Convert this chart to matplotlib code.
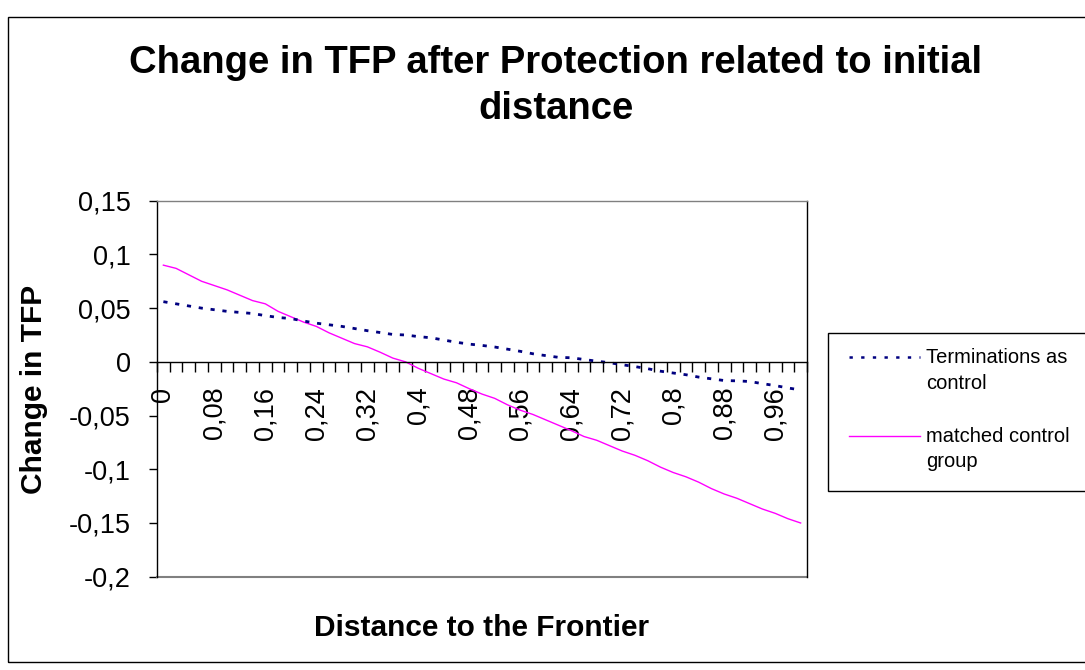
import matplotlib
matplotlib.use("Agg")
import matplotlib.pyplot as plt
from matplotlib.lines import Line2D
from matplotlib.patches import Rectangle
from matplotlib.ticker import FixedLocator, FuncFormatter

plt.rcParams['font.family'] = ['Liberation Sans', 'DejaVu Sans']
plt.rcParams['lines.scale_dashes'] = False

# ---------------- data ----------------
distances = [0, 0.02, 0.04, 0.06, 0.08, 0.1, 0.12, 0.14, 0.16, 0.18,
             0.2, 0.22, 0.24, 0.26, 0.28, 0.3, 0.32, 0.34, 0.36, 0.38,
             0.4, 0.42, 0.44, 0.46, 0.48, 0.5, 0.52, 0.54, 0.56, 0.58,
             0.6, 0.62, 0.64, 0.66, 0.68, 0.7, 0.72, 0.74, 0.76, 0.78,
             0.8, 0.82, 0.84, 0.86, 0.88, 0.9, 0.92, 0.94, 0.96, 0.98, 1.0]

terminations = [0.056, 0.054, 0.052, 0.050, 0.0485, 0.047, 0.046, 0.045, 0.043, 0.0413,
                0.0403, 0.038, 0.036, 0.0345, 0.033, 0.031, 0.029, 0.0273, 0.0255, 0.025,
                0.0235, 0.0224, 0.0203, 0.0182, 0.0165, 0.0153, 0.0138, 0.0118, 0.0098, 0.0075,
                0.0058, 0.0042, 0.0038, 0.0022, 0.0006, -0.0008, -0.0027, -0.0044, -0.0064, -0.0087,
                -0.0104, -0.012, -0.0142, -0.0158, -0.0174, -0.0177, -0.0183, -0.0203, -0.0221, -0.0243,
                -0.0262]

matched = [0.090, 0.087, 0.081, 0.075, 0.071, 0.067, 0.062, 0.057, 0.054, 0.047,
           0.042, 0.037, 0.033, 0.027, 0.022, 0.017, 0.014, 0.009, 0.0035, 0.000,
           -0.006, -0.011, -0.016, -0.0195, -0.025, -0.030, -0.034, -0.040, -0.045, -0.049,
           -0.054, -0.059, -0.064, -0.0695, -0.073, -0.078, -0.083, -0.087, -0.092, -0.098,
           -0.103, -0.107, -0.112, -0.118, -0.123, -0.127, -0.132, -0.137, -0.141, -0.146,
           -0.150]

y_ticks = [-0.2, -0.15, -0.1, -0.05, 0, 0.05, 0.1, 0.15]
label_every = 4

series_names = ["Terminations as\ncontrol", "matched control\ngroup"]
title_lines = ["Change in TFP after Protection related to initial", "distance"]
x_title = "Distance to the Frontier"
y_title = "Change in TFP"

# ---------------- figure ----------------
W, H = 1085, 670
fig = plt.figure(figsize=(W / 100, H / 100), dpi=100)
fig.patch.set_facecolor('white')


def fx(px):
    return px / W


def fy(py):
    return 1 - py / H


# outer chart border
fig.patches.append(Rectangle((fx(8), fy(662)), fx(1100) - fx(8), fy(17) - fy(662),
                             transform=fig.transFigure, fill=False,
                             edgecolor='black', linewidth=1.0, clip_on=False))

left, right, top, bottom = 157, 807, 200.7, 576.7
ax = fig.add_axes([fx(left), fy(bottom), fx(right) - fx(left), fy(top) - fy(bottom)])

xs = list(range(len(distances)))
ax.plot(xs, matched, color='#FF00FF', linewidth=1.0, solid_joinstyle='round')
ax.plot(xs, terminations, color='#000080', linewidth=2.0,
        linestyle=(0, (3.0, 5.6)), dash_capstyle='butt')

ax.set_xlim(-0.5, len(distances) - 0.5)
ax.set_ylim(min(y_ticks), max(y_ticks))

# spines: left axis black, x axis at y=0, plot-area border
ax.spines['left'].set_color('black')
ax.spines['left'].set_linewidth(1.0)
ax.spines['bottom'].set_position(('data', 0))
ax.spines['bottom'].set_color('black')
ax.spines['bottom'].set_linewidth(1.0)
ax.spines['top'].set_color('#808080')
ax.spines['top'].set_linewidth(1.0)
ax.spines['right'].set_color('black')
ax.spines['right'].set_linewidth(1.0)
ax.plot([0, 1], [0, 0], transform=ax.transAxes, color='#808080',
        linewidth=1.5, clip_on=False)

# y ticks
ax.yaxis.set_major_locator(FixedLocator(y_ticks))
ax.yaxis.set_major_formatter(FuncFormatter(lambda v, p: f"{v:g}".replace('.', ',')))
ax.tick_params(axis='y', direction='out', length=6, width=1, color='black',
               labelsize=19.5, pad=13)

# x ticks: labels at category centres, tick marks between categories
major_pos = [i for i in xs if i % label_every == 0]
ax.xaxis.set_major_locator(FixedLocator(major_pos))
ax.xaxis.set_major_formatter(FuncFormatter(
    lambda v, p: f"{distances[int(round(v))]:g}".replace('.', ',')))
ax.xaxis.set_minor_locator(FixedLocator([i - 0.5 for i in range(len(distances) + 1)]))
ax.tick_params(axis='x', which='major', length=0, labelsize=19.5, pad=18,
               labelrotation=90)
ax.tick_params(axis='x', which='minor', direction='out', length=7.2, width=1,
               color='black')
for lbl in ax.get_xticklabels():
    lbl.set_verticalalignment('top')
    lbl.set_horizontalalignment('center')

# titles
fig.text(fx(556), fy(63), title_lines[0], ha='center', va='center',
         fontsize=27.5, fontweight='bold')
fig.text(fx(556), fy(109), title_lines[1], ha='center', va='center',
         fontsize=27.5, fontweight='bold')
fig.text(fx(482), fy(628), x_title, ha='center', va='center',
         fontsize=21.5, fontweight='bold')
fig.text(fx(34), fy(389), y_title, ha='center', va='center', rotation=90,
         fontsize=21.5, fontweight='bold')

# legend (drawn manually, Excel style)
fig.patches.append(Rectangle((fx(828), fy(491)), fx(1100) - fx(828), fy(333) - fy(491),
                             transform=fig.transFigure, fill=True, facecolor='white',
                             edgecolor='black', linewidth=1.0, clip_on=False))
fig.lines.append(Line2D([fx(849), fx(920)], [fy(357), fy(357)], transform=fig.transFigure,
                        color='#000080', linewidth=1.8, linestyle=(0, (2.4, 6.0))))
fig.lines.append(Line2D([fx(849), fx(920)], [fy(436), fy(436)], transform=fig.transFigure,
                        color='#FF00FF', linewidth=1.0))
name_lines = [s.split('\n') for s in series_names]
baselines = [(362.7, 389.3), (441.7, 466.7)]
for lines, bls in zip(name_lines, baselines):
    for txt, bl in zip(lines, bls):
        fig.text(fx(926), fy(bl), txt, ha='left', va='baseline', fontsize=14.5)

fig.savefig('out.png', dpi=100, facecolor='white')
